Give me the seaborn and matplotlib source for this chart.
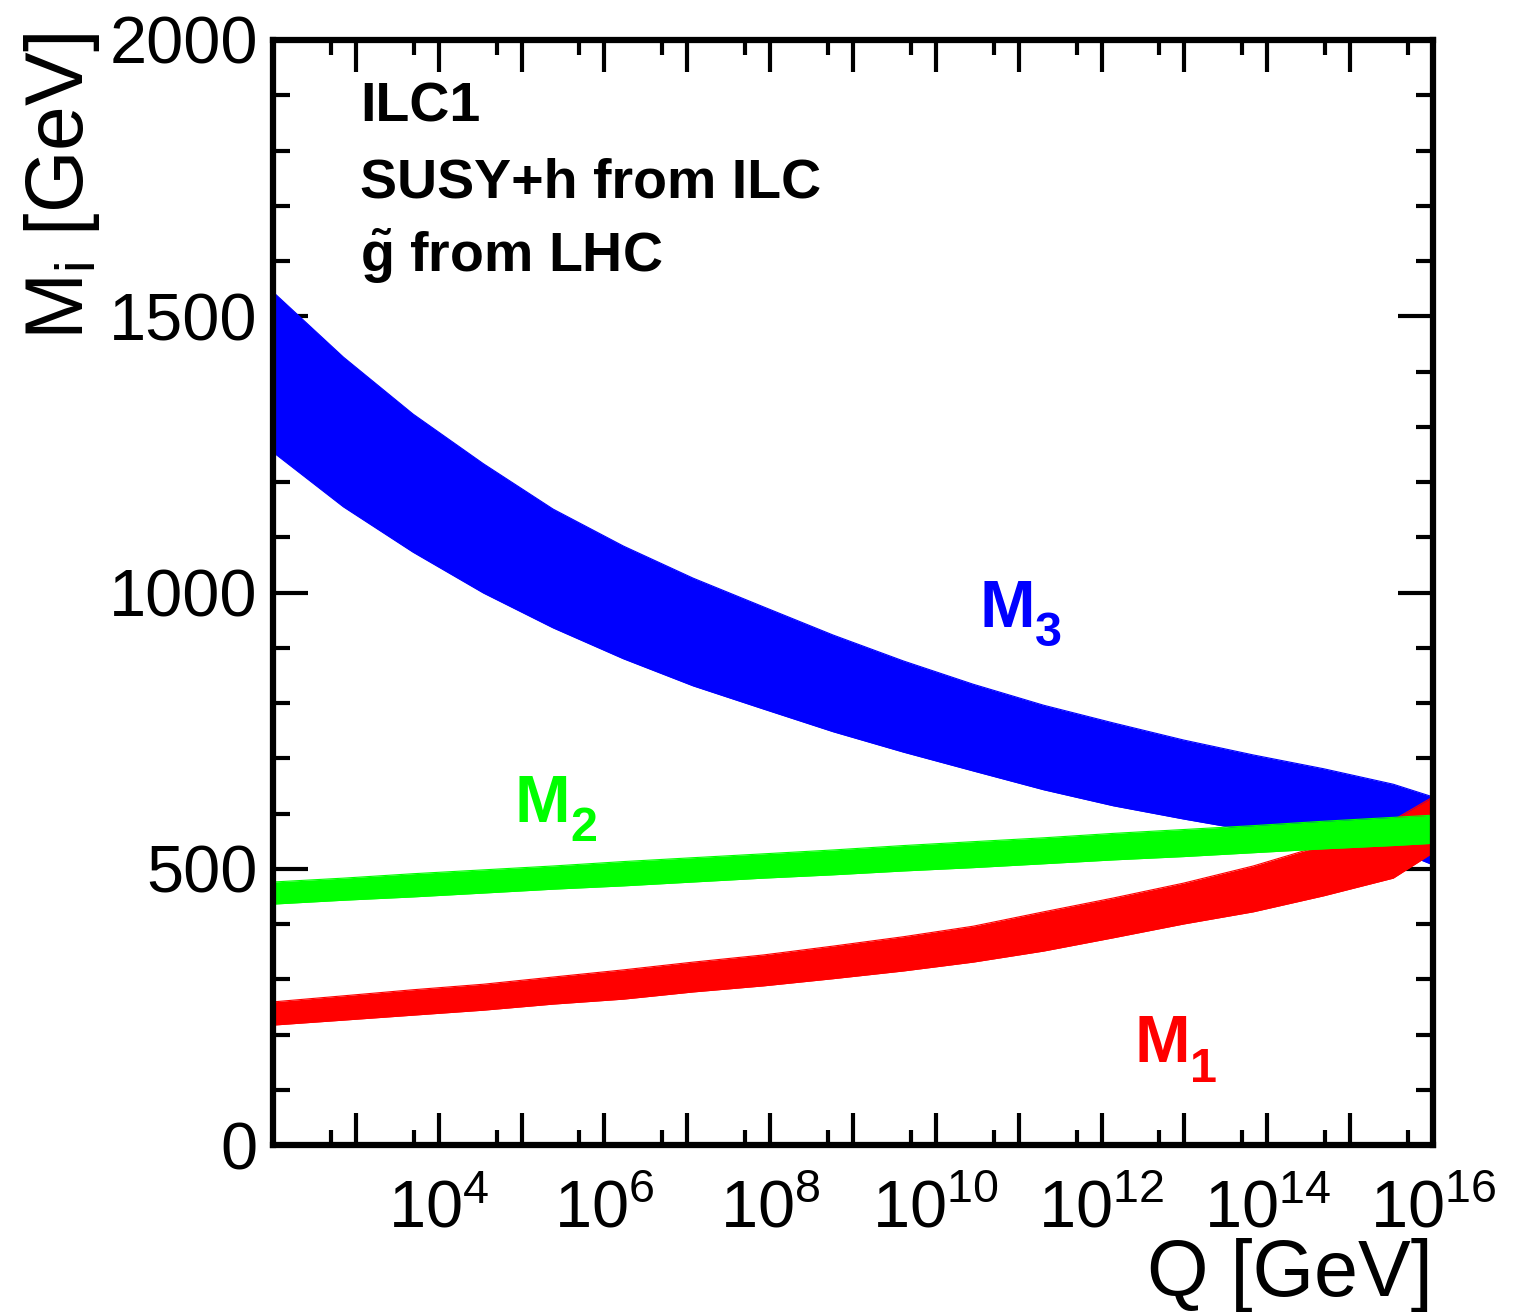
import numpy as np
import pandas as pd
import matplotlib
matplotlib.use("Agg")
import matplotlib.pyplot as plt
from matplotlib.ticker import FixedLocator, FuncFormatter, NullFormatter
import seaborn as sns

# Running gaugino mass parameters: log10 of the scale Q [GeV] and the band edges [GeV]
log_q = [2.00, 2.85, 3.69, 4.54, 5.38, 6.23, 7.07, 7.92, 8.76, 9.61,
         10.45, 11.30, 12.14, 12.99, 13.83, 14.68, 15.52, 16.00]

m3_upper = [1544, 1426, 1323, 1233, 1151, 1084, 1026, 974, 923, 876,
            834, 796, 764, 733, 706, 681, 653, 630]
m3_lower = [1254, 1155, 1073, 999, 936, 880, 831, 789, 748, 711,
            677, 643, 614, 590, 568, 550, 536, 507]

m2_upper = [476, 483, 491, 498, 505, 513, 520, 527, 534, 542,
            549, 556, 564, 571, 578, 586, 593, 597]
m2_lower = [436, 443, 449, 456, 463, 469, 476, 483, 489, 496,
            502, 509, 516, 522, 529, 536, 542, 546]

m1_upper = [259, 270, 281, 291, 304, 317, 331, 344, 360, 377,
            396, 422, 447, 474, 505, 543, 588, 630]
m1_lower = [217, 226, 235, 244, 255, 264, 277, 288, 301, 315,
            331, 351, 375, 400, 422, 451, 483, 529]

info_lines = ["ILC1", "SUSY+h from ILC", r"$\mathbf{\tilde{g}}$ from LHC"]

# band names, subscripts, colours and label anchors (log10 Q, M)
band_keys = ["m3", "m1", "m2"]
band_colors = {"m3": "#0000ff", "m2": "#00ff00", "m1": "#ff0000"}
band_sub = {"m3": "3", "m2": "2", "m1": "1"}
label_logq = {"m3": 10.53, "m2": 4.92, "m1": 12.40}
label_mass = {"m3": 938, "m2": 585, "m1": 150}

sns.set_theme(style="ticks")
plt.rcParams["font.family"] = ["Liberation Sans", "DejaVu Sans"]
plt.rcParams["mathtext.fontset"] = "custom"
plt.rcParams["mathtext.rm"] = "Liberation Sans"
plt.rcParams["mathtext.sf"] = "Liberation Sans"
plt.rcParams["mathtext.it"] = "Liberation Sans:italic"
plt.rcParams["mathtext.bf"] = "Liberation Sans:bold"
for k in ("text.color", "axes.labelcolor", "xtick.color", "ytick.color", "axes.edgecolor"):
    plt.rcParams[k] = "black"

bands = pd.DataFrame({
    "Q": np.power(10.0, log_q),
    "m3_lo": m3_lower, "m3_hi": m3_upper,
    "m2_lo": m2_lower, "m2_hi": m2_upper,
    "m1_lo": m1_lower, "m1_hi": m1_upper,
})

W, H = 1528, 1312
fig = plt.figure(figsize=(W / 100, H / 100), dpi=100)
ax = fig.add_axes([273 / W, 1 - 1145 / H, 1160 / W, 1105 / H])
ax.set_facecolor("white")

for key in band_keys:
    col = band_colors[key]
    ax.fill_between(bands["Q"], bands[f"{key}_lo"], bands[f"{key}_hi"],
                    color=col, linewidth=0, zorder=2)
    for edge in ("lo", "hi"):
        sns.lineplot(data=bands, x="Q", y=f"{key}_{edge}", ax=ax, color=col,
                     linewidth=0.8, zorder=2, legend=False)

ax.set_xscale("log")
ax.set_xlim(1e2, 1e16)
ax.set_ylim(0, 2000)
ax.set_xlabel("")
ax.set_ylabel("")


def decade_label(v, pos):
    k = int(round(np.log10(v)))
    return r"$10^{%d}$" % k if (k % 2 == 0 and k >= 4) else ""


# decade ticks, labels on even powers
ax.xaxis.set_major_locator(FixedLocator([10.0 ** k for k in range(3, 17)]))
ax.xaxis.set_minor_locator(FixedLocator([5 * 10.0 ** k for k in range(2, 16)]))
ax.xaxis.set_major_formatter(FuncFormatter(decade_label))
ax.xaxis.set_minor_formatter(NullFormatter())
ax.yaxis.set_major_locator(FixedLocator([0, 500, 1000, 1500, 2000]))
ax.yaxis.set_minor_locator(FixedLocator([v for v in range(100, 2000, 100) if v % 500]))

for s in ax.spines.values():
    s.set_linewidth(4.5)
    s.set_color("black")
    s.set_zorder(5)

ax.tick_params(axis="both", which="both", direction="in", top=True, right=True,
               width=3, color="black", labelcolor="black", zorder=6)
ax.tick_params(axis="x", which="major", length=23, labelsize=48, pad=25)
ax.tick_params(axis="x", which="minor", length=11)
ax.tick_params(axis="y", which="major", length=25, labelsize=48, pad=11)
ax.tick_params(axis="y", which="minor", length=12)

# axis titles
fig.text(62 / W, 1 - 33 / H, r"M$_{\mathrm{i}}$ [GeV]", rotation=90,
         ha="center", va="top", fontsize=58, color="black")
fig.text(1433 / W, 1 - 1238 / H, "Q [GeV]", ha="right", va="top", fontsize=57,
         color="black")

# info block
for txt, yb in zip(info_lines, [122, 197, 272]):
    ax.text((360 - 273) / 1160, (1145 - yb) / 1105, txt, transform=ax.transAxes,
            ha="left", va="baseline", fontsize=40, fontweight="bold", color="black")

# band labels: bold M with a lowered subscript digit
for key in band_keys:
    col = band_colors[key]
    xy = (10 ** label_logq[key], label_mass[key])
    ax.annotate("M", xy=xy, xytext=(0, 0), textcoords="offset points",
                color=col, fontsize=48, fontweight="bold",
                ha="left", va="baseline", zorder=7)
    ax.annotate(band_sub[key], xy=xy, xytext=(40, -14), textcoords="offset points",
                color=col, fontsize=35, fontweight="bold",
                ha="left", va="baseline", zorder=7)

fig.savefig("out.png", dpi=100, facecolor="white")
